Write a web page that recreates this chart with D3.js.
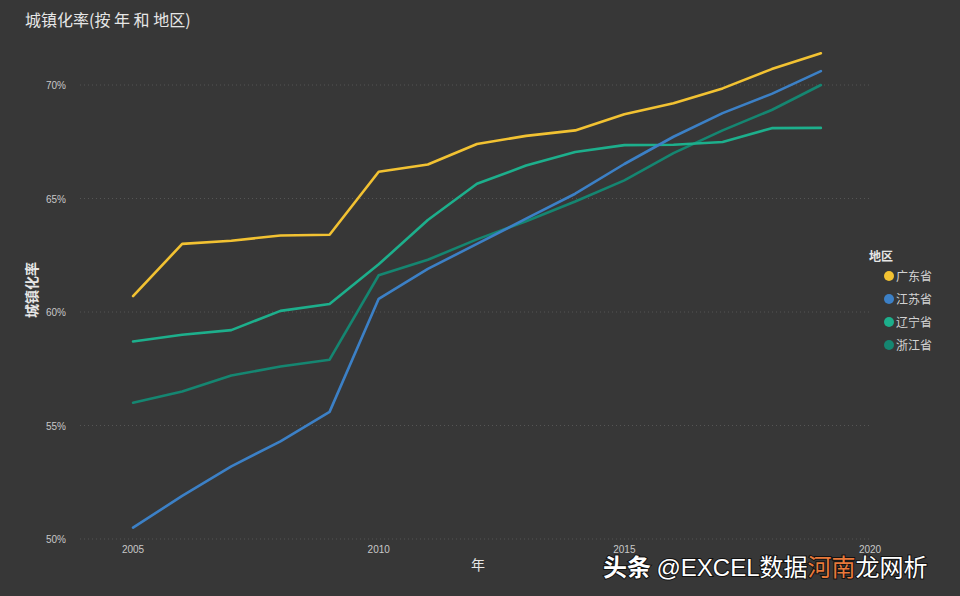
<!DOCTYPE html>
<html>
<head>
<meta charset="utf-8">
<script src="https://cdn.jsdelivr.net/npm/d3@7"></script>
<style>
  html, body { margin: 0; padding: 0; background: #373737; }
  svg { display: block; font-family: "Noto Sans CJK SC", "Noto Sans", sans-serif; }
</style>
</head>
<body>
<div id="chart"></div>
<script>
// Data (urbanisation rate, %)
const years = [2005, 2006, 2007, 2008, 2009, 2010, 2011, 2012, 2013, 2014, 2015, 2016, 2017, 2018, 2019];
const regions = ["广东省", "江苏省", "辽宁省", "浙江省"];
const guangdong = [60.7, 63.0, 63.14, 63.37, 63.4, 66.18, 66.5, 67.4, 67.76, 68.0, 68.71, 69.2, 69.85, 70.7, 71.4];
const jiangsu   = [50.5, 51.9, 53.2, 54.3, 55.6, 60.58, 61.9, 63.0, 64.11, 65.21, 66.52, 67.72, 68.76, 69.61, 70.61];
const liaoning  = [58.7, 59.0, 59.2, 60.05, 60.35, 62.1, 64.05, 65.65, 66.45, 67.05, 67.35, 67.37, 67.49, 68.1, 68.11];
const zhejiang  = [56.0, 56.5, 57.2, 57.6, 57.9, 61.62, 62.3, 63.2, 64.0, 64.87, 65.8, 67.0, 68.0, 68.9, 70.0];
const yTicks = [50, 55, 60, 65, 70];
const xTicks = [2005, 2010, 2015, 2020];
const colors = ["#f2c232", "#3c80c6", "#1daf8c", "#158671"];

const series = [guangdong, jiangsu, liaoning, zhejiang].map((vals, i) => ({
  name: regions[i],
  color: colors[i],
  values: years.map((y, j) => ({ year: y, v: vals[j] }))
}));

const width = 960, height = 596;
const svg = d3.select("#chart").append("svg")
  .attr("width", width)
  .attr("height", height);

svg.append("rect").attr("width", width).attr("height", height).attr("fill", "#373737");

const x = d3.scaleLinear().domain([2003.92, 2020]).range([80, 870]);
const y = d3.scaleLinear().domain([50, 70]).range([539, 85]);

// Title
svg.append("text")
  .attr("x", 25).attr("y", 26)
  .attr("fill", "#e6e6e6")
  .attr("font-size", 16)
  .text("城镇化率(按 年 和 地区)");

// Gridlines + y ticks
const yAxis = svg.append("g");
yAxis.selectAll("line.grid")
  .data(yTicks)
  .join("line")
  .attr("class", "grid")
  .attr("x1", 80).attr("x2", 870)
  .attr("y1", d => y(d)).attr("y2", d => y(d))
  .attr("stroke", "#555")
  .attr("stroke-width", 1)
  .attr("stroke-dasharray", "1,3");
yAxis.selectAll("text")
  .data(yTicks)
  .join("text")
  .attr("x", 66).attr("y", d => y(d) + 4)
  .attr("text-anchor", "end")
  .attr("fill", "#c8c8c8")
  .attr("font-family", "Liberation Sans, Arial, sans-serif")
  .attr("font-size", 10)
  .text(d => d + "%");

// x ticks
svg.append("g").selectAll("text")
  .data(xTicks)
  .join("text")
  .attr("x", d => x(d)).attr("y", 553)
  .attr("text-anchor", "middle")
  .attr("fill", "#c8c8c8")
  .attr("font-family", "Liberation Sans, Arial, sans-serif")
  .attr("font-size", 10)
  .text(d => d);

// Axis titles
svg.append("text")
  .attr("x", 478).attr("y", 570)
  .attr("text-anchor", "middle")
  .attr("fill", "#e6e6e6")
  .attr("font-size", 14)
  .text("年");
svg.append("text")
  .attr("transform", "translate(37,290) rotate(-90)")
  .attr("text-anchor", "middle")
  .attr("fill", "#e6e6e6")
  .attr("font-size", 14)
  .attr("font-weight", "bold")
  .text("城镇化率");

// Lines
const line = d3.line().x(d => x(d.year)).y(d => y(d.v));
svg.append("g").selectAll("path")
  .data(series.slice().reverse())
  .join("path")
  .attr("d", d => line(d.values))
  .attr("fill", "none")
  .attr("stroke", d => d.color)
  .attr("stroke-width", 2.6)
  .attr("stroke-linejoin", "round")
  .attr("stroke-linecap", "round");

// Legend
const legend = svg.append("g").attr("transform", "translate(869,0)");
legend.append("text")
  .attr("x", 0).attr("y", 261)
  .attr("fill", "#e6e6e6")
  .attr("font-size", 12)
  .attr("font-weight", "bold")
  .text("地区");
const item = legend.selectAll("g.item")
  .data(series)
  .join("g")
  .attr("class", "item")
  .attr("transform", (d, i) => `translate(0,${276 + i * 23})`);
item.append("circle")
  .attr("cx", 20).attr("cy", 0).attr("r", 5)
  .attr("fill", d => d.color);
item.append("text")
  .attr("x", 27).attr("y", 4.5)
  .attr("fill", "#d2d2d2")
  .attr("font-size", 12)
  .text(d => d.name);

// Watermark overlay
const wm = svg.append("text")
  .attr("x", 603).attr("y", 576)
  .attr("font-size", 24)
  .attr("fill", "#ffffff")
  .style("paint-order", "stroke")
  .attr("stroke", "#111")
  .attr("stroke-width", 2);
wm.append("tspan").attr("font-weight", "bold").text("头条 ");
wm.append("tspan").attr("font-family", "Liberation Sans, sans-serif").text("@EXCEL");
wm.append("tspan").text("数据");
wm.append("tspan").attr("fill", "#e8793a").text("河南");
wm.append("tspan").text("龙网析");
</script>
</body>
</html>
